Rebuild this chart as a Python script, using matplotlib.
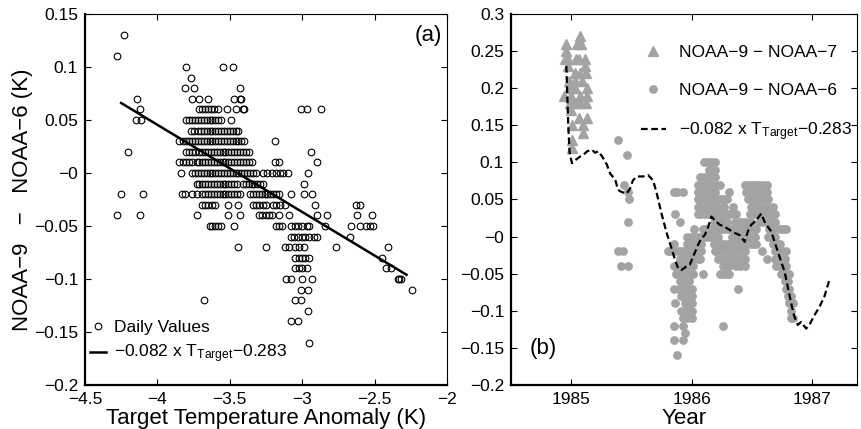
import numpy as np
import matplotlib
matplotlib.use("Agg")
import matplotlib.pyplot as plt
from matplotlib.ticker import FuncFormatter

plt.rcParams["font.family"] = ["Liberation Sans", "DejaVu Sans"]
plt.rcParams["mathtext.default"] = "regular"
plt.rcParams["xtick.direction"] = "in"
plt.rcParams["ytick.direction"] = "in"

# ---- panel (a): daily values, one row per 0.01 K level ----
row_levels = [0.13, 0.11, 0.10, 0.09, 0.08, 0.07, 0.06, 0.05, 0.04, 0.03, 0.02,
              0.01, 0.00, -0.01, -0.02, -0.03, -0.04, -0.05, -0.06, -0.07,
              -0.08, -0.09, -0.10, -0.11, -0.12, -0.13, -0.14, -0.16]
row_temps = [
    [-4.23],
    [-4.28],
    [-3.80, -3.55, -3.48],
    [-3.77],
    [-3.81, -3.75, -3.43],
    [-4.14, -3.76, -3.71, -3.65, -3.47, -3.43, -3.42],
    [-4.12, -3.71, -3.69, -3.67, -3.65, -3.63, -3.61, -3.58, -3.52, -3.46, -3.41,
     -3.40, -3.01, -2.97, -2.87],
    [-4.15, -4.11, -3.80, -3.78, -3.76, -3.74, -3.72, -3.70, -3.68, -3.66, -3.64,
     -3.62, -3.60, -3.58, -3.56, -3.49],
    [-3.77, -3.75, -3.72, -3.70, -3.68, -3.66, -3.64, -3.62, -3.60, -3.58, -3.56,
     -3.54, -3.52, -3.50, -3.48, -3.46, -3.44],
    [-3.85, -3.82, -3.80, -3.78, -3.76, -3.74, -3.72, -3.70, -3.68, -3.66, -3.64,
     -3.62, -3.60, -3.58, -3.56, -3.54, -3.52, -3.50, -3.48, -3.46, -3.44, -3.42,
     -3.40, -3.19],
    [-4.20, -3.80, -3.78, -3.76, -3.74, -3.71, -3.69, -3.67, -3.65, -3.63, -3.61,
     -3.59, -3.57, -3.55, -3.53, -3.51, -3.49, -3.47, -3.45, -3.43, -3.41, -3.39,
     -3.37, -2.94],
    [-3.85, -3.82, -3.80, -3.78, -3.76, -3.73, -3.71, -3.69, -3.67, -3.65, -3.63,
     -3.61, -3.59, -3.57, -3.55, -3.53, -3.51, -3.49, -3.47, -3.45, -3.43, -3.41,
     -3.39, -3.37, -3.35, -3.19, -3.16, -2.90],
    [-3.84, -3.76, -3.74, -3.72, -3.70, -3.68, -3.66, -3.64, -3.62, -3.60, -3.58,
     -3.56, -3.54, -3.52, -3.50, -3.48, -3.46, -3.44, -3.42, -3.40, -3.38, -3.36,
     -3.34, -3.32, -3.27, -3.24, -3.21, -3.18, -3.15, -3.13, -3.10, -2.96],
    [-3.73, -3.71, -3.69, -3.67, -3.65, -3.63, -3.61, -3.59, -3.57, -3.55, -3.53,
     -3.51, -3.49, -3.47, -3.45, -3.41, -3.39, -3.37, -3.35, -3.33, -3.31, -3.29,
     -3.27, -2.99],
    [-4.25, -4.10, -3.83, -3.81, -3.76, -3.73, -3.69, -3.67, -3.65, -3.63, -3.61,
     -3.59, -3.57, -3.55, -3.53, -3.51, -3.49, -3.47, -3.45, -3.43, -3.36, -3.34,
     -3.32, -3.30, -3.28, -3.26, -3.24, -3.22, -3.20, -3.18, -3.16, -3.08, -2.99,
     -2.93],
    [-3.69, -3.67, -3.65, -3.62, -3.60, -3.51, -3.44, -3.34, -3.32, -3.30, -3.27,
     -3.25, -3.20, -3.18, -3.15, -3.12, -2.91, -2.63, -2.60],
    [-4.28, -4.12, -3.73, -3.51, -3.43, -3.30, -3.28, -3.25, -3.23, -3.21, -3.16,
     -3.09, -2.90, -2.83, -2.62, -2.52],
    [-3.64, -3.62, -3.60, -3.58, -3.56, -3.47, -3.18, -3.16, -3.14, -3.08, -3.05,
     -3.03, -3.00, -2.97, -2.95, -2.84, -2.66, -2.60, -2.56, -2.53, -2.51],
    [-3.08, -3.06, -3.03, -3.00, -2.98, -2.95, -2.92, -2.90, -2.67],
    [-3.44, -3.25, -3.12, -3.09, -3.05, -3.02, -2.99, -2.77, -2.41],
    [-3.05, -3.02, -3.00, -2.98, -2.95, -2.45],
    [-3.05, -3.02, -3.00, -2.97, -2.42, -2.39],
    [-3.11, -3.08, -3.00, -2.93, -2.34, -2.33, -2.32],
    [-3.01, -2.96, -2.24],
    [-3.68, -3.05, -3.01],
    [-2.96],
    [-3.08, -3.03],
    [-2.95],
]
fit_t = [-4.25, -2.28]
fit_d = [0.066, -0.096]

# ---- panel (b): time series ----
tri_levels = [0.27, 0.26, 0.25, 0.24, 0.23, 0.22, 0.21, 0.20, 0.19, 0.18,
              0.17, 0.16, 0.15, 0.14, 0.13, 0.12]
tri_years = [
    [1985.07],
    [1984.96, 1985.05, 1985.08],
    [1984.96],
    [1984.95, 1984.97, 1985.04, 1985.06, 1985.11],
    [1984.97, 1985.11],
    [1985.03, 1985.07, 1985.12],
    [1984.98, 1985.03, 1985.09],
    [1984.98, 1985.01, 1985.03, 1985.13],
    [1984.94, 1985.00, 1985.07, 1985.13],
    [1984.99, 1985.03, 1985.07, 1985.12],
    [1985.00],
    [1985.06, 1985.13],
    [1985.01, 1985.10],
    [1985.10],
    [1985.01],
    [1985.01],
]

dot_levels = [0.13, 0.11, 0.10, 0.09, 0.08, 0.07, 0.06, 0.05, 0.04, 0.03, 0.02,
              0.01, 0.00, -0.01, -0.02, -0.03, -0.04, -0.05, -0.06, -0.07,
              -0.08, -0.09, -0.10, -0.11, -0.12, -0.13, -0.14, -0.16]
dot_years = [
    [1985.39],
    [1985.465],
    [1986.10, 1986.13, 1986.16, 1986.19],
    [1986.14, 1986.17, 1986.19],
    [1986.07, 1986.10, 1986.13, 1986.16, 1986.19],
    [1985.44, 1986.05, 1986.08, 1986.11, 1986.14, 1986.17, 1986.20, 1986.23,
     1986.44, 1986.47, 1986.50, 1986.53, 1986.56, 1986.59, 1986.62],
    [1985.47, 1985.85, 1985.88, 1985.93, 1986.05, 1986.08, 1986.11, 1986.14,
     1986.17, 1986.19, 1986.31, 1986.45, 1986.48, 1986.51, 1986.54, 1986.57,
     1986.60, 1986.62],
    [1985.48, 1986.05, 1986.08, 1986.11, 1986.14, 1986.17, 1986.20, 1986.23,
     1986.26, 1986.29, 1986.47, 1986.50, 1986.53, 1986.56, 1986.59, 1986.63],
    [1986.05, 1986.08, 1986.11, 1986.14, 1986.17, 1986.20, 1986.22, 1986.27,
     1986.34, 1986.49, 1986.52, 1986.55, 1986.58, 1986.61, 1986.64, 1986.67],
    [1985.86, 1986.05, 1986.08, 1986.11, 1986.14, 1986.17, 1986.20, 1986.23,
     1986.26, 1986.29, 1986.32, 1986.35, 1986.37, 1986.48, 1986.51, 1986.54,
     1986.57, 1986.60, 1986.63, 1986.66, 1986.69],
    [1985.47, 1985.90, 1986.18, 1986.21, 1986.24, 1986.27, 1986.29, 1986.36,
     1986.39, 1986.42, 1986.45, 1986.49, 1986.56, 1986.59, 1986.62, 1986.66,
     1986.69],
    [1986.02, 1986.09, 1986.12, 1986.15, 1986.18, 1986.21, 1986.24, 1986.27,
     1986.30, 1986.33, 1986.36, 1986.39, 1986.42, 1986.45, 1986.48, 1986.51,
     1986.53, 1986.64, 1986.67, 1986.70, 1986.73, 1986.76, 1986.78],
    [1985.96, 1985.99, 1986.02, 1986.05, 1986.08, 1986.11, 1986.14, 1986.17,
     1986.20, 1986.22, 1986.33, 1986.36, 1986.39, 1986.42, 1986.45, 1986.48,
     1986.52, 1986.63, 1986.66, 1986.69],
    [1985.85, 1985.96, 1985.99, 1986.02, 1986.05, 1986.08, 1986.18, 1986.21,
     1986.24, 1986.27, 1986.30, 1986.33, 1986.36, 1986.39, 1986.42, 1986.45,
     1986.48, 1986.51, 1986.53, 1986.67, 1986.70, 1986.73],
    [1985.39, 1985.43, 1985.80, 1985.83, 1985.86, 1985.89, 1985.92, 1985.95,
     1985.98, 1986.01, 1986.04, 1986.08, 1986.19, 1986.22, 1986.25, 1986.28,
     1986.31, 1986.33, 1986.36, 1986.39, 1986.42, 1986.44, 1986.58, 1986.69,
     1986.72, 1986.75, 1986.78],
    [1985.90, 1985.93, 1985.96, 1985.99, 1986.02, 1986.05, 1986.07, 1986.22,
     1986.25, 1986.28, 1986.31, 1986.33, 1986.37, 1986.40, 1986.44, 1986.62,
     1986.69, 1986.72, 1986.75, 1986.77],
    [1985.41, 1985.47, 1985.85, 1985.88, 1985.91, 1985.94, 1985.97, 1986.01,
     1986.26, 1986.29, 1986.31, 1986.37, 1986.40, 1986.44, 1986.70, 1986.73,
     1986.76, 1986.78],
    [1985.87, 1985.90, 1985.93, 1985.96, 1985.99, 1986.01, 1986.09, 1986.23,
     1986.26, 1986.29, 1986.31, 1986.74, 1986.77, 1986.79, 1986.81],
    [1985.90, 1985.93, 1985.96, 1985.98, 1986.77, 1986.80],
    [1985.85, 1985.89, 1985.93, 1985.96, 1986.00, 1986.38, 1986.78, 1986.81],
    [1985.91, 1985.94, 1985.97, 1986.00, 1986.80, 1986.82],
    [1985.86, 1985.94, 1985.97, 1986.00, 1986.81, 1986.84],
    [1985.91, 1985.94, 1985.97, 1986.00, 1986.82],
    [1985.93, 1985.96, 1986.00, 1986.82, 1986.84],
    [1985.85, 1985.93, 1986.26],
    [1985.94],
    [1985.85, 1985.93],
    [1985.88],
]

model_years = [1984.959, 1984.967, 1984.975, 1984.986, 1985.006, 1985.033, 1985.074,
               1985.099, 1985.132, 1985.171, 1985.198, 1985.223, 1985.256, 1985.295,
               1985.322, 1985.364, 1985.388, 1985.419, 1985.460, 1985.488, 1985.512,
               1985.543, 1985.595, 1985.636, 1985.678, 1985.708, 1985.750, 1985.791,
               1985.832, 1985.860, 1985.887, 1985.915, 1985.956, 1985.983, 1986.011,
               1986.052, 1986.080, 1986.107, 1986.135, 1986.163, 1986.190, 1986.231,
               1986.273, 1986.314, 1986.355, 1986.397, 1986.438, 1986.465, 1986.493,
               1986.521, 1986.548, 1986.576, 1986.603, 1986.631, 1986.659, 1986.686,
               1986.713, 1986.741, 1986.769, 1986.796, 1986.824, 1986.851, 1986.879,
               1986.907, 1986.948, 1986.975, 1987.017, 1987.058, 1987.099, 1987.140]
model_vals = [0.23, 0.19, 0.15, 0.113, 0.099, 0.103, 0.108, 0.110, 0.115, 0.117,
              0.113, 0.115, 0.108, 0.097, 0.085, 0.077, 0.063, 0.060, 0.058, 0.065,
              0.076, 0.081, 0.081, 0.083, 0.076, 0.059, 0.030, 0.005, -0.016, -0.031,
              -0.043, -0.045, -0.040, -0.038, -0.027, -0.011, -0.002, 0.002, 0.013,
              0.027, 0.022, 0.016, 0.013, 0.009, 0.005, 0.002, -0.007, 0.007, 0.016,
              0.020, 0.025, 0.031, 0.020, 0.013, 0.007, -0.007, -0.020, -0.034,
              -0.047, -0.068, -0.090, -0.108, -0.119, -0.115, -0.124, -0.119,
              -0.106, -0.095, -0.081, -0.059]

GRAY = "#a3a3a3"
FIT_LABEL = "\u22120.082 x T$_{Target}$\u22120.283"


def flatten(levels, groups):
    xs, ys = [], []
    for lev, grp in zip(levels, groups):
        xs.extend(grp)
        ys.extend([lev] * len(grp))
    return np.array(xs), np.array(ys)


fmt = FuncFormatter(lambda v, p: ("%g" % round(v, 3)).replace("-", "\u2212"))

fig = plt.figure(figsize=(8.62, 4.29), dpi=100)
ax1 = fig.add_axes([0.0986, 0.1026, 0.42, 0.8648])
ax2 = fig.add_axes([0.5928, 0.1026, 0.4014, 0.8648])

# (a)
tx, dy = flatten(row_levels, row_temps)
ax1.plot(tx, dy, "o", ms=4.8, mfc="none", mec="k", mew=0.8, label="Daily Values")
ax1.plot(fit_t, fit_d, "k-", lw=1.8, label=FIT_LABEL)
ax1.set_xlim(-4.5, -2)
ax1.set_ylim(-0.2, 0.15)
ax1.set_xticks(np.arange(-4.5, -1.99, 0.5))
ax1.set_yticks(np.arange(-0.2, 0.151, 0.05))
ax1.set_xlabel("Target Temperature Anomaly (K)", fontsize=16, labelpad=1)
ax1.set_ylabel("NOAA\u22129   \u2212   NOAA\u22126 (K)", fontsize=16, labelpad=1)
ax1.text(0.985, 0.97, "(a)", transform=ax1.transAxes, ha="right", va="top", fontsize=16)
ax1.legend(loc="lower left", bbox_to_anchor=(-0.015, 0.025), frameon=False, fontsize=12.5,
           handlelength=0.9, handletextpad=0.5, labelspacing=0.45, borderaxespad=0.2)

# (b)
bx, by = flatten(tri_levels, tri_years)
ax2.plot(bx, by, "^", color=GRAY, ms=6.5, mec=GRAY, label="NOAA\u22129 \u2212 NOAA\u22127")
cx, cy = flatten(dot_levels, dot_years)
ax2.plot(cx, cy, "o", color=GRAY, ms=5.3, mec=GRAY, label="NOAA\u22129 \u2212 NOAA\u22126")
ax2.plot(model_years, model_vals, color="k", lw=1.6, dashes=(3, 1.6), label=FIT_LABEL)
ax2.set_xlim(1984.5, 1987.37)
ax2.set_ylim(-0.2, 0.3)
ax2.set_xticks([1985, 1986, 1987])
ax2.set_yticks(np.arange(-0.2, 0.301, 0.05))
ax2.set_xlabel("Year", fontsize=16, labelpad=1)
ax2.text(0.055, 0.07, "(b)", transform=ax2.transAxes, ha="left", va="bottom", fontsize=16)
ax2.legend(loc="upper right", bbox_to_anchor=(1.015, 0.945), frameon=False, fontsize=12.5,
           handlelength=1.4, handletextpad=0.75, labelspacing=1.3, borderaxespad=0.2)

for ax in (ax1, ax2):
    ax.xaxis.set_major_formatter(fmt)
    ax.yaxis.set_major_formatter(fmt)
    ax.tick_params(labelsize=12.5, top=True, right=True, length=4, width=0.8, pad=5)
    for s in ("top", "right"):
        ax.spines[s].set_linewidth(0.8)
    for s in ("left", "bottom"):
        ax.spines[s].set_linewidth(1.6)

fig.savefig("out.png", dpi=100)
